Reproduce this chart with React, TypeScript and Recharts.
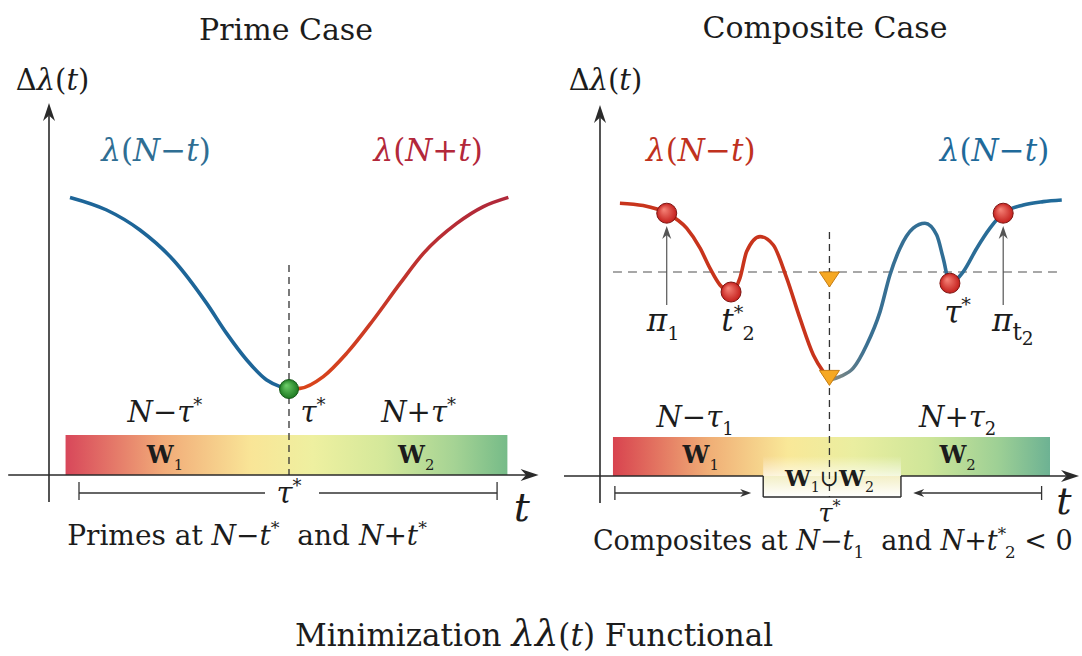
import React from 'react';
import { LineChart, Line, XAxis, YAxis, ReferenceLine, ReferenceArea, ReferenceDot } from 'recharts';

const FONT = '"DejaVu Serif", "Liberation Serif", serif';

// ---------------- Prime case (left panel) ----------------
const primeBlueT = [0.875, 2.4, 3.79, 5.18, 6.57, 7.4, 8.24, 9.07, 9.63, 10.0];
const primeBlueV = [13.88, 13.25, 12.25, 10.75, 8.58, 7.08, 5.75, 4.75, 4.42, 4.3];
const primeRedT = [10.0, 10.46, 11.43, 12.4, 13.51, 14.63, 15.6, 16.99, 18.1, 19.14];
const primeRedV = [4.3, 4.33, 4.92, 6.08, 7.75, 9.58, 11.08, 12.58, 13.42, 13.88];
const primeMinT = 10.0;
const primeMinV = 4.3;

// ---------------- Composite case (right panel) ----------------
const compRedT = [0.83, 1.8, 2.78, 3.61, 4.17, 4.58, 5.0, 5.46, 5.83, 6.11, 6.67, 7.22, 7.78, 8.33, 8.89, 9.3, 9.58];
const compRedV = [13.64, 13.52, 13.14, 12.39, 11.39, 10.39, 9.55, 9.2, 9.89, 11.22, 11.97, 11.55, 9.89, 7.89, 6.05, 5.22, 4.8];
const compBlueT = [9.58, 10.0, 10.55, 11.11, 11.67, 12.08, 12.5, 13.05, 13.54, 14.03, 14.3, 14.58, 15.14, 15.7, 16.25, 16.8, 17.64, 18.47, 19.24];
const compBlueV = [4.8, 4.97, 5.39, 6.55, 8.22, 10.05, 11.39, 12.39, 12.64, 12.05, 10.89, 9.64, 10.22, 11.39, 12.39, 13.14, 13.55, 13.72, 13.8];
const compDotT = [2.78, 5.46, 14.58, 16.8];
const compDotV = [13.14, 9.2, 9.64, 13.14];
const compTriT = [9.56, 9.56];
const compTriV = [9.85, 4.93];
const compThreshold = 10.2;
const compMinT = 9.56;

const toRows = (ts: number[], vs: number[]) => ts.map((t, i) => ({ t, v: vs[i] }));

type Part = { s: string; i?: boolean; b?: boolean; sub?: boolean; sup?: boolean; off?: number; dx?: number; small?: number };

function renderParts(parts: Part[], fs: number) {
  let cur = 0;
  return parts.map((p, k) => {
    const target = p.off !== undefined ? p.off * fs : p.sub ? fs * 0.28 : p.sup ? -fs * 0.38 : 0;
    const dy = target - cur;
    cur = target;
    const size = p.small ? fs * p.small : (p.sub || p.sup) ? fs * 0.62 : fs;
    return (
      <tspan key={k} dy={dy} dx={p.dx} fontStyle={p.i ? 'italic' : 'normal'} fontWeight={p.b ? 700 : 400} fontSize={size}>
        {p.s}
      </tspan>
    );
  });
}

function label(key: string, t: number, v: number, parts: Part[], fs: number, color = '#1c1c1c', anchor: 'middle' | 'start' | 'end' = 'middle') {
  return (
    <ReferenceDot
      key={key}
      x={t}
      y={v}
      r={0}
      ifOverflow="visible"
      shape={(p: any) => (
        <text x={p.cx} y={p.cy + fs * 0.35} textAnchor={anchor} fill={color} fontSize={fs} style={{ whiteSpace: 'pre', fontFamily: FONT }}>
          {renderParts(parts, fs)}
        </text>
      )}
    />
  );
}

const plainLine = (color: string, w: number, dash?: string) => (p: any) => (
  <line x1={p.x1} y1={p.y1} x2={p.x2} y2={p.y2} stroke={color} strokeWidth={w} strokeDasharray={dash} />
);

const arrowLine = (color: string, w: number, L: number, W: number) => (p: any) => {
  const { x1, y1, x2, y2 } = p;
  const dx = x2 - x1;
  const dy = y2 - y1;
  const len = Math.hypot(dx, dy) || 1;
  const ux = dx / len;
  const uy = dy / len;
  const bx = x2 - ux * L;
  const by = y2 - uy * L;
  const nx = bx + ux * L * 0.3;
  const ny = by + uy * L * 0.3;
  return (
    <g>
      <line x1={x1} y1={y1} x2={nx} y2={ny} stroke={color} strokeWidth={w} />
      <polygon points={`${x2},${y2} ${bx - uy * W},${by + ux * W} ${nx},${ny} ${bx + uy * W},${by - ux * W}`} fill={color} />
    </g>
  );
};

const seg = (key: string, a: [number, number], b: [number, number], shape: any) => (
  <ReferenceLine key={key} segment={[{ x: a[0], y: a[1] }, { x: b[0], y: b[1] }]} ifOverflow="visible" shape={shape} />
);

const triShape = (p: any) => (
  <polygon
    points={`${p.cx - 10},${p.cy - 7} ${p.cx + 10},${p.cy - 7} ${p.cx},${p.cy + 8}`}
    fill="#f6a822"
    stroke="#c67d12"
    strokeWidth={1}
  />
);

const AXIS = '#2a2a2a';

function PrimeChart() {
  return (
    <LineChart width={545} height={656} margin={{ top: 105, right: 16, bottom: 181, left: 49 }}>
      <defs>
        <linearGradient id="primeBar" x1="0" y1="0" x2="1" y2="0">
          <stop offset="0" stopColor="#d8475a" />
          <stop offset="0.22" stopColor="#f1aa78" />
          <stop offset="0.42" stopColor="#f9e597" />
          <stop offset="0.56" stopColor="#eef0a0" />
          <stop offset="0.72" stopColor="#d4e89a" />
          <stop offset="0.88" stopColor="#a5d394" />
          <stop offset="1" stopColor="#76bb88" />
        </linearGradient>
        <linearGradient id="primeRed" x1="0" y1="1" x2="0" y2="0">
          <stop offset="0" stopColor="#d9441a" />
          <stop offset="1" stopColor="#b0283a" />
        </linearGradient>
        <radialGradient id="greenDot" cx="0.5" cy="0.5" r="0.5" fx="0.35" fy="0.3">
          <stop offset="0" stopColor="#6fd06a" />
          <stop offset="1" stopColor="#1e7a22" />
        </radialGradient>
      </defs>
      <XAxis type="number" dataKey="t" domain={[0, 20]} hide allowDataOverflow />
      <YAxis type="number" dataKey="v" domain={[0, 18.5]} hide allowDataOverflow />

      <ReferenceArea x1={0.69} x2={19.1} y1={0} y2={2} fill="url(#primeBar)" fillOpacity={1} stroke="none" />
      {seg('dash', [primeMinT, 10.5], [primeMinT, 0], plainLine('#333', 1.3, '7 5'))}

      {seg('yax', [0, -1.35], [0, 18.6], arrowLine(AXIS, 1.6, 18, 6))}
      {seg('xax', [-1.7, 0], [20.4, 0], arrowLine(AXIS, 1.6, 18, 6))}

      {seg('br1', [1.25, -0.9], [9.0, -0.9], plainLine('#333', 1.3))}
      {seg('br2', [11.25, -0.9], [18.67, -0.9], plainLine('#333', 1.3))}
      {seg('brt1', [1.25, -0.35], [1.25, -1.25], plainLine('#333', 1.3))}
      {seg('brt2', [18.67, -0.35], [18.67, -1.25], plainLine('#333', 1.3))}

      <Line data={toRows(primeBlueT, primeBlueV)} dataKey="v" type="monotone" stroke="#1d6598" strokeWidth={3.6} dot={false} activeDot={false} isAnimationActive={false} />
      <Line data={toRows(primeRedT, primeRedV)} dataKey="v" type="monotone" stroke="url(#primeRed)" strokeWidth={3.6} dot={false} activeDot={false} isAnimationActive={false} />

      <ReferenceDot x={primeMinT} y={primeMinV} r={9.5} fill="url(#greenDot)" stroke="#185a1a" strokeWidth={1} ifOverflow="visible" />

      {label('dl', 0.15, 19.75, [{ s: 'Δ' }, { s: 'λ', i: true }, { s: '(' }, { s: 't', i: true }, { s: ')' }], 29)}
      {label('lb', 4.46, 16.25, [{ s: 'λ', i: true }, { s: '(' }, { s: 'N', i: true }, { s: '−' }, { s: 't', i: true }, { s: ')' }], 31, '#2f6e93')}
      {label('lr', 15.8, 16.25, [{ s: 'λ', i: true }, { s: '(' }, { s: 'N', i: true }, { s: '+' }, { s: 't', i: true }, { s: ')' }], 31, '#b3283a')}
      {label('nm', 4.83, 3.15, [{ s: 'N', i: true }, { s: '−' }, { s: 'τ', i: true }, { s: '*', sup: true }], 29)}
      {label('ts', 11.0, 3.15, [{ s: 'τ', i: true }, { s: '*', sup: true }], 29)}
      {label('np', 15.4, 3.15, [{ s: 'N', i: true }, { s: '+' }, { s: 'τ', i: true }, { s: '*', sup: true }], 29)}
      {label('w1', 4.83, 1.0, [{ s: 'W', b: true }, { s: '1', sub: true }], 24)}
      {label('w2', 15.3, 1.0, [{ s: 'W', b: true }, { s: '2', sub: true }], 24)}
      {label('tb', 10, -0.9, [{ s: 'τ', i: true }, { s: '*', sup: true }], 29)}
      {label('tt', 19.7, -1.6, [{ s: 't', i: true }], 40)}
      {label('cap', 8.25, -3.0, [
        { s: 'Primes at ' }, { s: 'N', i: true }, { s: '−' }, { s: 't', i: true }, { s: '*', sup: true },
        { s: '  and ', off: 0 }, { s: 'N', i: true }, { s: '+' }, { s: 't', i: true }, { s: '*', sup: true },
      ], 28)}
    </LineChart>
  );
}

function CompositeChart() {
  return (
    <LineChart width={537} height={656} margin={{ top: 106, right: 2, bottom: 180, left: 55 }}>
      <defs>
        <linearGradient id="compBar" x1="0" y1="0" x2="1" y2="0">
          <stop offset="0" stopColor="#d8434f" />
          <stop offset="0.22" stopColor="#f0ae76" />
          <stop offset="0.4" stopColor="#f9e898" />
          <stop offset="0.55" stopColor="#eaeea0" />
          <stop offset="0.72" stopColor="#cfe699" />
          <stop offset="0.88" stopColor="#9ed095" />
          <stop offset="1" stopColor="#6db293" />
        </linearGradient>
        <linearGradient id="boxGrad" x1="0" y1="0" x2="0" y2="1">
          <stop offset="0" stopColor="#f3efc6" />
          <stop offset="1" stopColor="#ffffff" />
        </linearGradient>
        <linearGradient id="paleGrad" x1="0" y1="0" x2="0" y2="1">
          <stop offset="0" stopColor="#ffffff" stopOpacity="0" />
          <stop offset="1" stopColor="#ffffff" stopOpacity="0.7" />
        </linearGradient>
        <linearGradient id="compBlue" x1="0" y1="0" x2="1" y2="0">
          <stop offset="0" stopColor="#8c8c80" />
          <stop offset="0.16" stopColor="#3a7092" />
          <stop offset="1" stopColor="#1f6a9a" />
        </linearGradient>
        <radialGradient id="redDot" cx="0.5" cy="0.5" r="0.5" fx="0.35" fy="0.3">
          <stop offset="0" stopColor="#f7867a" />
          <stop offset="1" stopColor="#c41f1c" />
        </radialGradient>
      </defs>
      <XAxis type="number" dataKey="t" domain={[0, 20]} hide allowDataOverflow />
      <YAxis type="number" dataKey="v" domain={[0, 18.5]} hide allowDataOverflow />

      <ReferenceArea x1={0.54} x2={18.75} y1={0} y2={1.95} fill="url(#compBar)" fillOpacity={1} stroke="none" />
      <ReferenceArea x1={6.8} x2={12.54} y1={0} y2={1.0} fill="url(#paleGrad)" fillOpacity={1} stroke="none" />
      <ReferenceArea x1={6.8} x2={12.54} y1={-1.05} y2={0} fill="url(#boxGrad)" fillOpacity={1} stroke="none" ifOverflow="visible" />

      {seg('hdash', [0.54, compThreshold], [19.04, compThreshold], plainLine('#8a8a8a', 1.3, '9 6'))}
      {seg('vdash', [compMinT, 12.2], [compMinT, -1.05], plainLine('#333', 1.3, '7 5'))}

      {seg('yax', [0, -1.35], [0, 18.55], arrowLine(AXIS, 1.6, 18, 6))}
      {seg('xax1', [-1.5, 0], [6.8, 0], plainLine(AXIS, 1.6))}
      {seg('bx1', [6.8, 0], [6.8, -1.05], plainLine(AXIS, 1.4))}
      {seg('bx2', [6.8, -1.05], [12.54, -1.05], plainLine(AXIS, 1.4))}
      {seg('bx3', [12.54, -1.05], [12.54, 0], plainLine(AXIS, 1.4))}
      {seg('xax2', [12.54, 0], [19.96, 0], arrowLine(AXIS, 1.6, 18, 6))}

      {seg('la', [0.62, -0.85], [6.3, -0.85], arrowLine('#333', 1.3, 11, 4))}
      {seg('lat', [0.62, -0.5], [0.62, -1.2], plainLine('#333', 1.3))}
      {seg('ra', [18.4, -0.85], [13.05, -0.85], arrowLine('#333', 1.3, 11, 4))}
      {seg('rat', [18.4, -0.5], [18.4, -1.2], plainLine('#333', 1.3))}

      {seg('pa1', [compDotT[0], 8.55], [compDotT[0], 12.5], arrowLine('#555', 1.2, 13, 4.5))}
      {seg('pa2', [compDotT[3], 8.55], [compDotT[3], 12.5], arrowLine('#555', 1.2, 13, 4.5))}

      <Line data={toRows(compRedT, compRedV)} dataKey="v" type="monotone" stroke="#c8341c" strokeWidth={3.6} dot={false} activeDot={false} isAnimationActive={false} />
      <Line data={toRows(compBlueT, compBlueV)} dataKey="v" type="monotone" stroke="url(#compBlue)" strokeWidth={3.6} dot={false} activeDot={false} isAnimationActive={false} />

      {compDotT.map((t, i) => (
        <ReferenceDot key={'d' + i} x={t} y={compDotV[i]} r={10} fill="url(#redDot)" stroke="#7e1512" strokeWidth={1} ifOverflow="visible" />
      ))}
      {compTriT.map((t, i) => (
        <ReferenceDot key={'tr' + i} x={t} y={compTriV[i]} r={8} ifOverflow="visible" shape={triShape} />
      ))}

      {label('dl', 0.23, 19.8, [{ s: 'Δ' }, { s: 'λ', i: true }, { s: '(' }, { s: 't', i: true }, { s: ')' }], 29)}
      {label('lr', 4.2, 16.3, [{ s: 'λ', i: true }, { s: '(' }, { s: 'N', i: true }, { s: '−' }, { s: 't', i: true }, { s: ')' }], 31, '#c0321e')}
      {label('lb', 16.44, 16.3, [{ s: 'λ', i: true }, { s: '(' }, { s: 'N', i: true }, { s: '−' }, { s: 't', i: true }, { s: ')' }], 31, '#1f6a9a')}
      {label('p1', 2.63, 7.8, [{ s: 'π', i: true }, { s: '1', sub: true }], 31)}
      {label('t2', 5.75, 7.8, [{ s: 't', i: true }, { s: '*', sup: true }, { s: '2', sub: true, dx: -1 }], 31)}
      {label('ts', 14.9, 8.2, [{ s: 'τ', i: true }, { s: '*', sup: true }], 31)}
      {label('pt2', 17.2, 7.8, [{ s: 'π', i: true }, { s: 't', sub: true, small: 0.75 }, { s: '2', off: 0.45, small: 0.6 }], 31)}
      {label('nm', 3.96, 2.95, [{ s: 'N', i: true }, { s: '−' }, { s: 'τ', i: true }, { s: '1', sub: true }], 29)}
      {label('np', 14.9, 2.95, [{ s: 'N', i: true }, { s: '+' }, { s: 'τ', i: true }, { s: '2', sub: true }], 29)}
      {label('w1', 4.2, 1.05, [{ s: 'W', b: true }, { s: '1', sub: true }], 24)}
      {label('w2', 14.9, 1.05, [{ s: 'W', b: true }, { s: '2', sub: true }], 24)}
      {label('w12', compMinT, -0.1, [{ s: 'W', b: true }, { s: '1', sub: true }, { s: '∪', off: 0 }, { s: 'W', b: true }, { s: '2', sub: true }], 23)}
      {label('tb', compMinT, -1.85, [{ s: 'τ', i: true }, { s: '*', sup: true }], 26)}
      {label('tt', 19.33, -1.25, [{ s: 't', i: true }], 38)}
      {label('cap', 9.7, -3.25, [
        { s: 'Composites at ' }, { s: 'N', i: true }, { s: '−' }, { s: 't', i: true }, { s: '1', sub: true },
        { s: '  and ', off: 0 }, { s: 'N', i: true }, { s: '+' }, { s: 't', i: true }, { s: '*', sup: true }, { s: '2', sub: true, dx: -1 },
        { s: ' < 0', off: 0 },
      ], 27)}
    </LineChart>
  );
}

export default function App() {
  return (
    <div style={{ position: 'absolute', left: 0, top: 0, width: 1082, height: 656, background: '#ffffff', overflow: 'hidden', fontFamily: FONT }}>
      <div style={{ position: 'absolute', left: 0, top: 0 }}>
        <PrimeChart />
      </div>
      <div style={{ position: 'absolute', left: 545, top: 0 }}>
        <CompositeChart />
      </div>
      <div style={{ position: 'absolute', left: 0, width: 572, top: 10, textAlign: 'center', fontSize: 30, color: '#1c1c1c', lineHeight: '40px' }}>Prime Case</div>
      <div style={{ position: 'absolute', left: 540, width: 570, top: 8, textAlign: 'center', fontSize: 30, color: '#1c1c1c', lineHeight: '40px' }}>Composite Case</div>
      <div style={{ position: 'absolute', left: 0, width: 1068, top: 614, textAlign: 'center', fontSize: 31, color: '#1c1c1c', lineHeight: '40px' }}>
        Minimization <span style={{ fontStyle: 'italic', fontSize: 37 }}>λλ</span>(<span style={{ fontStyle: 'italic' }}>t</span>) Functional
      </div>
    </div>
  );
}
